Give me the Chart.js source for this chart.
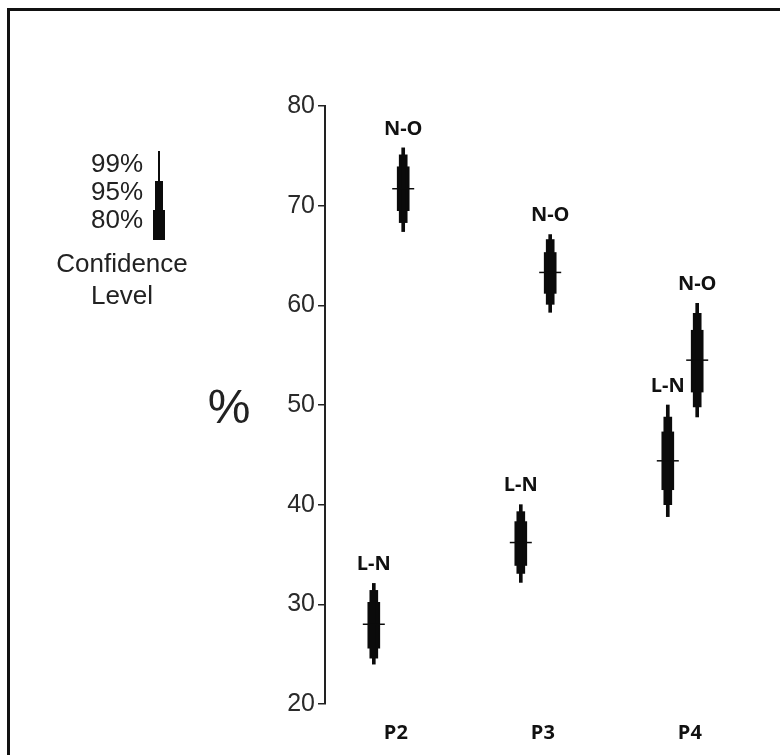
<!DOCTYPE html>
<html>
<head>
<meta charset="utf-8">
<script src="https://cdn.jsdelivr.net/npm/chart.js@4.4.1/dist/chart.umd.min.js"></script>
<style>
  html, body { margin: 0; padding: 0; background: #fff; }
  #wrap { position: relative; width: 780px; height: 755px; overflow: hidden; }
  #frame { position: absolute; left: 7px; top: 8px; right: 0; bottom: 0; border-top: 3px solid #111; border-left: 3px solid #111; }
  canvas { position: absolute; left: 0; top: 0; }
</style>
</head>
<body>
<div id="wrap">
  <div id="frame"></div>
  <canvas id="ciChart" width="780" height="755"></canvas>
</div>
<script>
// categories and series
const categories = ['P2', 'P3', 'P4'];
const groups = ['L-N', 'N-O'];
const levels = ['99%', '95%', '80%'];
const yTicks = [20, 30, 40, 50, 60, 70, 80];

// point estimates (%)
const lnMean = [28.0, 36.2, 44.4];
const noMean = [71.7, 63.3, 54.5];

// confidence intervals [low, high]
const ln80 = [[25.6, 30.2], [33.9, 38.3], [41.5, 47.3]];
const ln95 = [[24.6, 31.4], [33.1, 39.3], [40.0, 48.8]];
const ln99 = [[24.0, 32.1], [32.2, 40.0], [38.8, 50.0]];
const no80 = [[69.5, 73.9], [61.2, 65.3], [51.3, 57.5]];
const no95 = [[68.3, 75.1], [60.1, 66.6], [49.8, 59.2]];
const no99 = [[67.4, 75.8], [59.3, 67.1], [48.8, 60.2]];

// layout: each pair sits either side of its category
const groupOffset = { 'L-N': -0.1, 'N-O': 0.1 };
const labelOffset = 0.05;
const ink = '#0b0b0b';

function barSet(label, ranges, group, thickness) {
    return {
        type: 'bar',
        label: label,
        data: ranges.map((r, i) => ({ x: i + groupOffset[group], y: r })),
        backgroundColor: ink,
        borderWidth: 0,
        barThickness: thickness,
        grouped: false,
        order: 2
    };
}

function meanSet(label, means, group) {
    return {
        type: 'line',
        label: label,
        data: means.map((m, i) => ({ x: i + groupOffset[group], y: m })),
        showLine: false,
        pointStyle: 'line',
        pointRadius: 11,
        pointBorderWidth: 1.5,
        pointBorderColor: ink,
        order: 1
    };
}

const datasets = [
    meanSet('L-N mean', lnMean, 'L-N'),
    meanSet('N-O mean', noMean, 'N-O'),
    barSet('L-N 99%', ln99, 'L-N', 3),
    barSet('L-N 95%', ln95, 'L-N', 8),
    barSet('L-N 80%', ln80, 'L-N', 12),
    barSet('N-O 99%', no99, 'N-O', 3),
    barSet('N-O 95%', no95, 'N-O', 8),
    barSet('N-O 80%', no80, 'N-O', 12)
];

// text around the plot: pair labels, "%" and the confidence key
const extras = {
    id: 'extras',
    afterDraw(chart) {
        const c = chart.ctx;
        const xs = chart.scales.x;
        const ys = chart.scales.y;
        c.save();
        c.fillStyle = '#111';
        c.textAlign = 'center';
        c.textBaseline = 'middle';

        c.font = 'bold 20px "Open Sans", "Liberation Sans", sans-serif';
        const tops = { 'L-N': ln99, 'N-O': no99 };
        groups.forEach(g => {
            tops[g].forEach((r, i) => {
                const px = xs.getPixelForValue(i + groupOffset[g]);
                const py = ys.getPixelForValue(r[1]) - 19;
                c.fillText(g, px, py);
            });
        });

        c.fillStyle = '#222';
        c.font = '48px "Liberation Sans", Arial, sans-serif';
        c.fillText('%', 229, 410);

        // confidence key
        c.font = '26px "Liberation Sans", Arial, sans-serif';
        c.textAlign = 'right';
        levels.forEach((t, i) => c.fillText(t, 143, 165 + i * 28));
        c.textAlign = 'center';
        c.fillText('Confidence', 122, 265);
        c.fillText('Level', 122, 297);

        c.fillStyle = ink;
        c.fillRect(158, 151, 2, 30);
        c.fillRect(155, 181, 8, 29);
        c.fillRect(153, 210, 12, 30);
        c.restore();
    }
};

new Chart(document.getElementById('ciChart'), {
    type: 'bar',
    data: { datasets: datasets },
    options: {
        responsive: false,
        animation: false,
        layout: { padding: { top: 106, left: 285, right: 39, bottom: 11 } },
        plugins: { legend: { display: false }, tooltip: { enabled: false } },
        scales: {
            x: {
                type: 'linear',
                offset: false,
                min: -0.432,
                max: 2.398,
                grid: { display: false, drawTicks: false },
                border: { display: false },
                afterBuildTicks: s => { s.ticks = categories.map((c, i) => ({ value: i + labelOffset })); },
                afterFit: s => { s.height = 40; },
                ticks: {
                    padding: 17,
                    color: '#111',
                    font: { family: '"Open Sans", "Liberation Sans", sans-serif', size: 20, weight: 'bold' },
                    callback: v => categories[Math.round(v)]
                }
            },
            y: {
                min: 20,
                max: 80,
                afterBuildTicks: s => { s.ticks = yTicks.map(v => ({ value: v })); },
                afterFit: s => { s.width = 40; },
                grid: { drawOnChartArea: false, drawTicks: true, tickLength: 7, color: '#222', lineWidth: 1.5 },
                border: { display: true, color: '#222', width: 2 },
                ticks: {
                    padding: 3,
                    color: '#2a2a2a',
                    font: { family: '"Liberation Sans", Arial, sans-serif', size: 25 }
                }
            }
        }
    },
    plugins: [extras]
});
</script>
</body>
</html>
